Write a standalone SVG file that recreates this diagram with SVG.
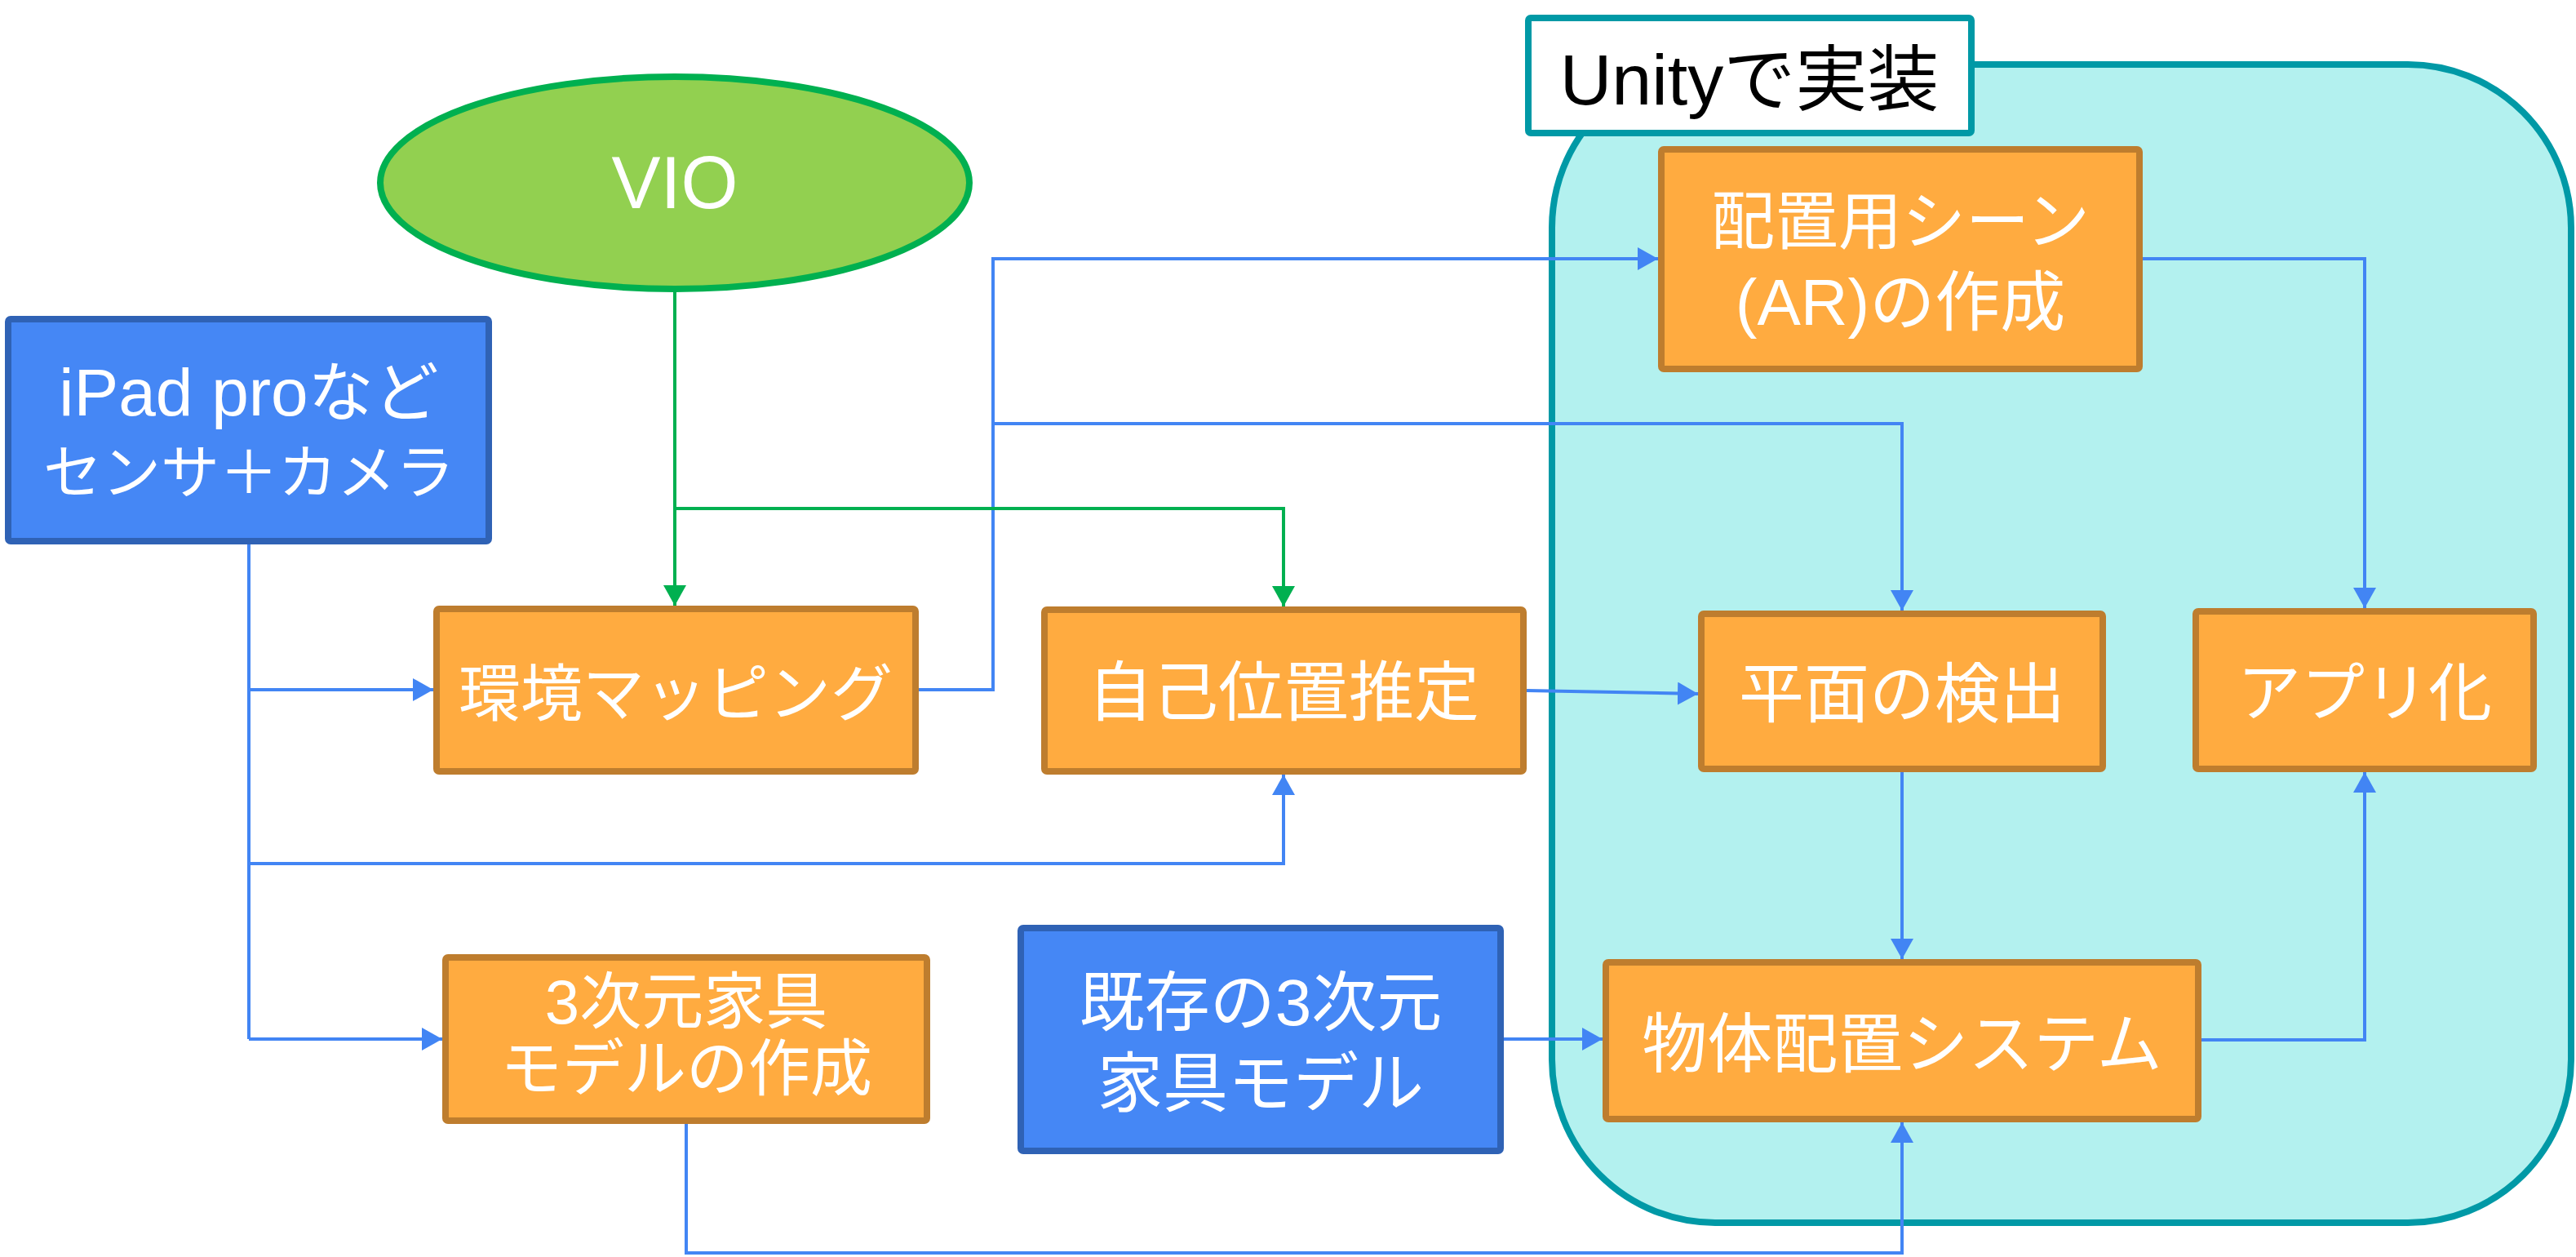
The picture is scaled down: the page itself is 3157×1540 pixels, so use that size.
<svg xmlns="http://www.w3.org/2000/svg" width="3157" height="1540" viewBox="0 0 3157 1540">
<style>
.t{font-family:"Liberation Sans","Noto Sans CJK JP",sans-serif;fill:#FFFFFF;text-anchor:middle}
.ob{fill:#FFAB40;stroke:#BE7D2E;stroke-width:8}
.bb{fill:#4587F5;stroke:#2F62B5;stroke-width:8}
.cb{fill:none;stroke:#4285F4;stroke-width:4}
.cg{fill:none;stroke:#00B050;stroke-width:4}
</style>
<defs>
<marker id="ab" markerUnits="userSpaceOnUse" markerWidth="26" markerHeight="28" refX="25" refY="14" orient="auto"><path d="M0,0 L25,14 L0,28 z" fill="#4285F4"/></marker>
<marker id="ag" markerUnits="userSpaceOnUse" markerWidth="26" markerHeight="28" refX="25" refY="14" orient="auto"><path d="M0,0 L25,14 L0,28 z" fill="#00B050"/></marker>
</defs>
<rect width="3157" height="1540" fill="#FFFFFF"/>
<g id="unity-container">
<rect x="1902" y="79" width="1249" height="1419" rx="200" ry="200" fill="#B3F1EF" stroke="#0099A6" stroke-width="8"/>
</g>
<g id="unity-label">
<rect x="1873" y="22" width="543" height="141" rx="3" fill="#FFFFFF" stroke="#0099A6" stroke-width="8"/>
<text class="t" x="2144" y="128" font-size="88" style="fill:#000000">Unityで実装</text>
</g>
<g id="connectors">
<path class="cb" d="M305 667 V1273"/>
<path class="cb" d="M305 845 H531" marker-end="url(#ab)"/>
<path class="cb" d="M305 1058 H1573 V949" marker-end="url(#ab)"/>
<path class="cb" d="M305 1273 H542" marker-end="url(#ab)"/>
<path class="cb" d="M1126 845 H1217 V317 H2032" marker-end="url(#ab)"/>
<path class="cb" d="M1217 519 H2331 V748" marker-end="url(#ab)"/>
<path class="cb" d="M1871 846 L2081 850" marker-end="url(#ab)"/>
<path class="cb" d="M2331 946 V1175" marker-end="url(#ab)"/>
<path class="cb" d="M841 1377 V1535 H2331 V1375" marker-end="url(#ab)"/>
<path class="cb" d="M1843 1273 H1964" marker-end="url(#ab)"/>
<path class="cb" d="M2626 317 H2898 V745" marker-end="url(#ab)"/>
<path class="cb" d="M2698 1274 H2898 V946" marker-end="url(#ab)"/>
<path class="cg" d="M827 358 V742" marker-end="url(#ag)"/>
<path class="cg" d="M827 623 H1573 V743" marker-end="url(#ag)"/>
</g>
<g id="vio">
<ellipse cx="827" cy="224" rx="361" ry="130" fill="#92D050" stroke="#00B050" stroke-width="8"/>
<text class="t" x="827" y="255" font-size="90">VIO</text>
</g>
<g id="ipad">
<rect class="bb" x="10" y="391" width="589" height="272" rx="3"/>
<text class="t" x="305" y="509" font-size="80"><tspan font-size="82">iPad pro</tspan>など</text>
<text class="t" x="305" y="604" font-size="72">センサ＋カメラ</text>
</g>
<g id="mapping">
<rect class="ob" x="535" y="746" width="587" height="199" rx="3"/>
<text class="t" x="828" y="877" font-size="76">環境マッピング</text>
</g>
<g id="localization">
<rect class="ob" x="1280" y="747" width="587" height="198" rx="3"/>
<text class="t" x="1573" y="876" font-size="80">自己位置推定</text>
</g>
<g id="furniture-create">
<rect class="ob" x="546" y="1173" width="590" height="200" rx="3"/>
<text class="t" x="841" y="1254" font-size="76">3次元家具</text>
<text class="t" x="841" y="1336" font-size="76">モデルの作成</text>
</g>
<g id="furniture-existing">
<rect class="bb" x="1251" y="1137" width="588" height="273" rx="3"/>
<text class="t" x="1545" y="1256" font-size="80">既存の3次元</text>
<text class="t" x="1545" y="1355" font-size="80">家具モデル</text>
</g>
<g id="scene">
<rect class="ob" x="2036" y="183" width="586" height="269" rx="3"/>
<text class="t" x="2329" y="299" font-size="78">配置用シーン</text>
<text class="t" x="2329" y="398" font-size="80">(AR)の作成</text>
</g>
<g id="plane">
<rect class="ob" x="2085" y="752" width="492" height="190" rx="3"/>
<text class="t" x="2331" y="878" font-size="80">平面の検出</text>
</g>
<g id="app">
<rect class="ob" x="2691" y="749" width="414" height="193" rx="3"/>
<text class="t" x="2898" y="877" font-size="78">アプリ化</text>
</g>
<g id="placement">
<rect class="ob" x="1968" y="1179" width="726" height="192" rx="3"/>
<text class="t" x="2331" y="1307" font-size="80">物体配置システム</text>
</g>
</svg>
